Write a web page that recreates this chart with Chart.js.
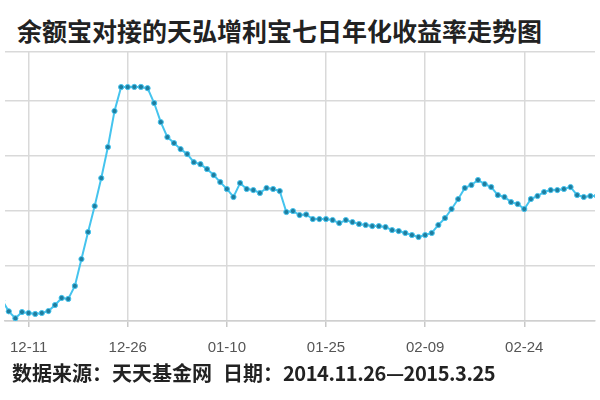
<!DOCTYPE html>
<html>
<head>
<meta charset="utf-8">
<title>余额宝对接的天弘增利宝七日年化收益率走势图</title>
<script src="https://cdn.jsdelivr.net/npm/chart.js@4"></script>
<style>
  html, body { margin: 0; padding: 0; background: #fff; }
  #wrap { position: relative; width: 600px; height: 400px; overflow: hidden; }
  #title {
    position: absolute; left: 17px; top: 18px;
    font: 700 25px/25px "Noto Sans CJK SC", sans-serif;
    color: #222; white-space: nowrap;
  }
  #plot { position: absolute; left: 0; top: 40px; width: 600px; height: 330px; }
  #source {
    position: absolute; left: 12px; top: 363px;
    font: 700 20px/20px "Noto Sans CJK SC", sans-serif;
    color: #222; white-space: nowrap;
  }
  #source .gap { display: inline-block; width: 11px; }
  #source .num { letter-spacing: -0.45px; }
</style>
</head>
<body>
<div id="wrap">
  <div id="title">余额宝对接的天弘增利宝七日年化收益率走势图</div>
  <div id="plot"><canvas id="chart"></canvas></div>
  <div id="source">数据来源：天天基金网<span class="gap"></span>日期：<span class="num">2014.11.26—2015.3.25</span></div>
</div>
<script>
// daily dates visible in the cropped chart (12-07 .. 03-07)
const dates = [
  '12-07','12-08','12-09','12-10','12-11','12-12','12-13','12-14','12-15','12-16',
  '12-17','12-18','12-19','12-20','12-21','12-22','12-23','12-24','12-25','12-26',
  '12-27','12-28','12-29','12-30','12-31',
  '01-01','01-02','01-03','01-04','01-05','01-06','01-07','01-08','01-09','01-10',
  '01-11','01-12','01-13','01-14','01-15','01-16','01-17','01-18','01-19','01-20',
  '01-21','01-22','01-23','01-24','01-25','01-26','01-27','01-28','01-29','01-30','01-31',
  '02-01','02-02','02-03','02-04','02-05','02-06','02-07','02-08','02-09','02-10',
  '02-11','02-12','02-13','02-14','02-15','02-16','02-17','02-18','02-19','02-20',
  '02-21','02-22','02-23','02-24','02-25','02-26','02-27','02-28',
  '03-01','03-02','03-03','03-04','03-05','03-06','03-07'
];

// seven-day annualised yield (%)
const yields = [
  3.950, 3.870, 3.820, 3.865, 3.858, 3.851, 3.858, 3.872, 3.916, 3.967,
  3.960, 4.054, 4.249, 4.445, 4.633, 4.836, 5.061, 5.322, 5.496, 5.496,
  5.497, 5.497, 5.488, 5.380, 5.242,
  5.133, 5.090, 5.046, 5.010, 4.951, 4.937, 4.901, 4.858, 4.807, 4.757,
  4.699, 4.800, 4.757, 4.749, 4.728, 4.764, 4.757, 4.742, 4.590, 4.597,
  4.568, 4.572, 4.539, 4.539, 4.539, 4.532, 4.510, 4.532, 4.517, 4.503, 4.496,
  4.488, 4.488, 4.481, 4.459, 4.452, 4.438, 4.423, 4.409, 4.423, 4.438,
  4.496, 4.546, 4.612, 4.684, 4.764, 4.786, 4.822, 4.793, 4.771, 4.713,
  4.699, 4.662, 4.648, 4.612, 4.684, 4.706, 4.735, 4.749,
  4.749, 4.757, 4.771, 4.713, 4.699, 4.706, 4.706
];

// labelled dates on the x axis
const tickLabels = ['12-11', '12-26', '01-10', '01-25', '02-09', '02-24'];

// horizontal grid levels (the y labels are cropped away in the original)
const yGrid = [3.8, 4.2, 4.6, 5.0, 5.4, 5.75];

const points = yields.map((v, i) => ({ x: i, y: v }));

new Chart(document.getElementById('chart'), {
  type: 'line',
  data: {
    datasets: [{
      label: '七日年化收益率',
      data: points,
      borderColor: '#45c4ee',
      borderWidth: 2,
      tension: 0,
      pointRadius: 2.6,
      pointBorderWidth: 1,
      pointBackgroundColor: '#1f7d9f',
      pointBorderColor: '#45c4ee'
    }]
  },
  options: {
    responsive: true,
    maintainAspectRatio: false,
    animation: false,
    layout: { padding: { top: 12, bottom: 0, left: 0, right: 0 } },
    plugins: {
      legend: { display: false },
      tooltip: { enabled: false }
    },
    scales: {
      x: {
        type: 'linear',
        min: 0.43,
        max: 89.7,
        afterBuildTicks: scale => {
          scale.ticks = tickLabels.map(l => ({ value: dates.indexOf(l) }));
        },
        afterFit: scale => {
          // keep the axis band a fixed height so the plot bottom lands where the original does
          scale.height = 49;
          scale.paddingLeft = 0;
          scale.paddingRight = 0;
        },
        ticks: {
          callback: v => dates[v],
          color: '#555',
          font: { family: 'Liberation Sans', size: 15 },
          padding: 12,
          maxRotation: 0
        },
        grid: {
          color: '#d9d9d9',
          lineWidth: 1.5,
          drawTicks: true,
          tickLength: 6,
          tickColor: '#c8c8c8'
        },
        border: { color: '#cfcfcf', width: 1.5 }
      },
      y: {
        min: yGrid[0],
        max: yGrid[yGrid.length - 1],
        afterBuildTicks: scale => {
          scale.ticks = yGrid.map(v => ({ value: v }));
        },
        ticks: { display: false },
        grid: { color: '#d9d9d9', lineWidth: 1.5, drawTicks: false },
        border: { display: false }
      }
    }
  }
});
</script>
</body>
</html>
